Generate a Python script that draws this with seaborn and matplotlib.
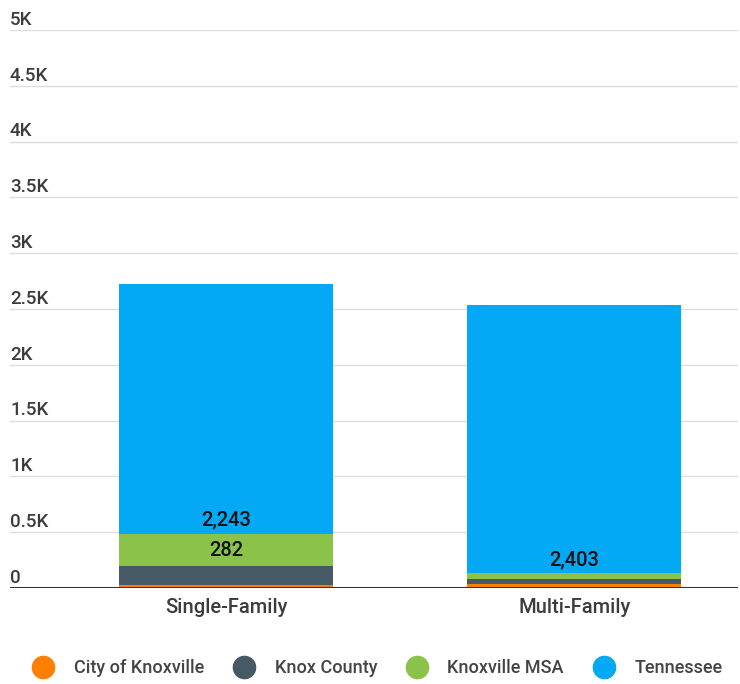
import matplotlib
matplotlib.use("Agg")
import matplotlib.pyplot as plt
from matplotlib.lines import Line2D
import seaborn as sns
import numpy as np
import pandas as pd

categories = ["Single-Family", "Multi-Family"]
series_names = ["City of Knoxville", "Knox County", "Knoxville MSA", "Tennessee"]
city = [30, 40]
county = [169, 40]
msa = [282, 53]
tennessee = [2243, 2403]
colors = ["#FF8000", "#455A64", "#8BC34A", "#03A9F4"]
ytick_vals = [0, 500, 1000, 1500, 2000, 2500, 3000, 3500, 4000, 4500, 5000]
ytick_labels = ["0", "0.5K", "1K", "1.5K", "2K", "2.5K", "3K", "3.5K", "4K", "4.5K", "5K"]

sns.set_theme(style="white")
plt.rcParams["font.family"] = ["Roboto", "DejaVu Sans"]

vals = np.array([city, county, msa, tennessee], dtype=float)
cum = np.cumsum(vals, axis=0)

fig = plt.figure(figsize=(7.4, 6.84), dpi=100)
ax = fig.add_axes([10 / 740, 96 / 684, 728 / 740, 558 / 684])

for v in ytick_vals[1:]:
    ax.axhline(v, color="#DDDDDD", lw=1, zorder=0)

for i in range(3, -1, -1):
    df = pd.DataFrame({"cat": categories, "val": cum[i]})
    sns.barplot(data=df, x="cat", y="val", color=colors[i], width=0.615,
                saturation=1, ax=ax, zorder=2, edgecolor="none", linewidth=0)

ax.axhline(0, color="#333333", lw=2.2, zorder=5)
ax.set_xlim(-0.62, 1.47)
ax.set_ylim(0, 5000)
ax.set_yticks([])
ax.set_xlabel("")
ax.set_ylabel("")
for s in ax.spines.values():
    s.set_visible(False)
ax.tick_params(axis="x", length=0, pad=7, labelsize=14.5, labelcolor="#3C3C3C")
for t in ax.get_xticklabels():
    t.set_fontweight(500)

for v, lab in zip(ytick_vals, ytick_labels):
    ax.text(0.0, v + 10, lab, transform=ax.get_yaxis_transform(), ha="left",
            va="bottom", fontsize=13.5, fontweight=500, color="#3C3C3C")

# data labels
lab_kw = dict(ha="center", va="center", fontsize=14.5, fontweight=500,
              color="#111111", zorder=6)
ax.text(0, cum[1][0] + msa[0] / 2, f"{msa[0]:,}", **lab_kw)
ax.text(0, cum[2][0] + 125, f"{tennessee[0]:,}", **lab_kw)
ax.text(1, cum[2][1] + 120, f"{tennessee[1]:,}", **lab_kw)

handles = [Line2D([0], [0], marker="o", linestyle="", markersize=16,
                  markerfacecolor=c, markeredgecolor=c) for c in colors]
leg = fig.legend(handles, series_names, loc="center", ncol=4, frameon=False,
                 bbox_to_anchor=(0.510, 16 / 684), fontsize=13, handletextpad=1.1,
                 columnspacing=1.6, labelcolor="#444444", handlelength=1.2)
for t in leg.get_texts():
    t.set_fontweight(500)

fig.savefig("out.png", dpi=100)
